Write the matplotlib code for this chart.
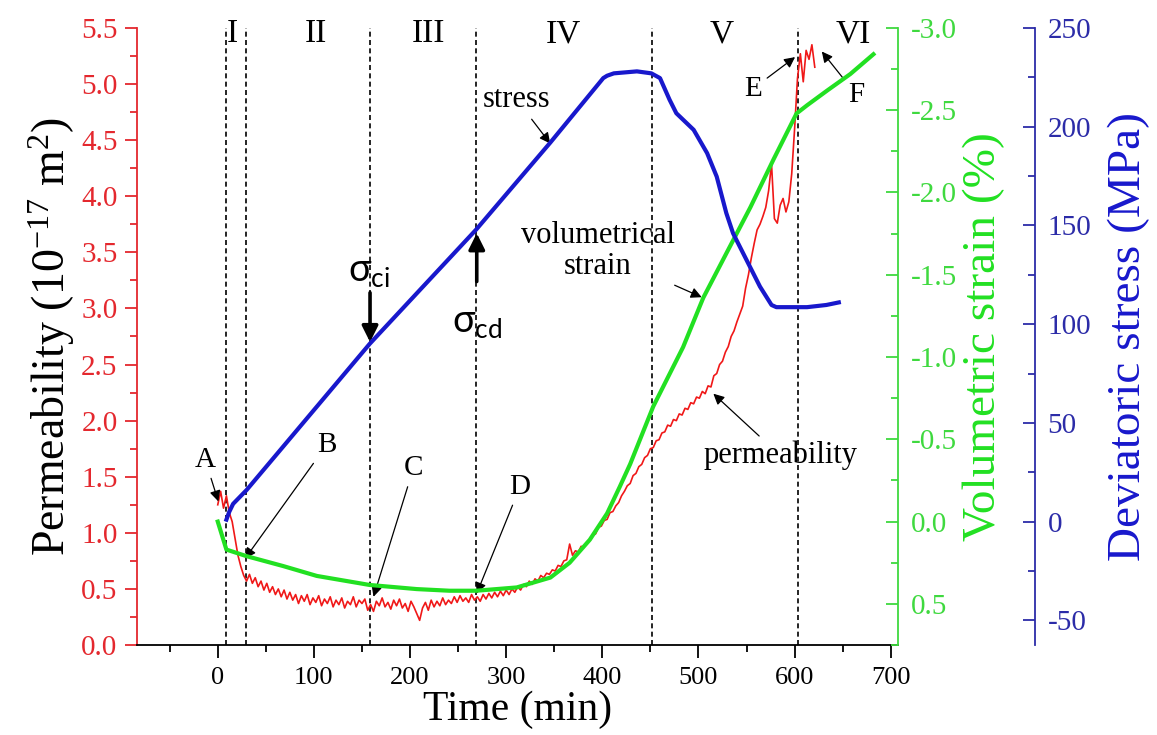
import matplotlib
matplotlib.use('Agg')
import matplotlib.pyplot as plt
import matplotlib.ticker as mticker
import numpy as np

plt.rcParams.update({
    'font.family': ['Liberation Serif', 'DejaVu Serif'],
    'mathtext.default': 'regular',
    'axes.unicode_minus': False,
    'axes.linewidth': 1.3,
})

RED = '#f01818'
RED_AX = '#e4282e'
GREEN = '#22e022'
GREEN_AX = '#3fd93f'
BLUE = '#1818cc'
BLUE_AX = '#2c2ca8'

# --- data ---
# permeability (1e-17 m^2), sampled every 3 min from t = 0
perm_step = 3
perm = [
    1.25, 1.37, 1.22, 1.33, 1.18, 1.10, 0.95, 0.80, 0.70, 0.62,
    0.57, 0.63, 0.55, 0.60, 0.52, 0.57, 0.49, 0.55, 0.47, 0.52,
    0.45, 0.50, 0.43, 0.49, 0.41, 0.47, 0.40, 0.45, 0.37, 0.44,
    0.39, 0.45, 0.36, 0.42, 0.38, 0.44, 0.35, 0.41, 0.37, 0.43,
    0.34, 0.40, 0.36, 0.42, 0.33, 0.39, 0.36, 0.43, 0.34, 0.40,
    0.37, 0.41, 0.31, 0.36, 0.30, 0.39, 0.35, 0.42, 0.34, 0.38,
    0.32, 0.40, 0.35, 0.41, 0.33, 0.37, 0.30, 0.39, 0.34, 0.28,
    0.22, 0.33, 0.38, 0.31, 0.40, 0.34, 0.39, 0.35, 0.42, 0.36,
    0.40, 0.37, 0.43, 0.38, 0.44, 0.39, 0.42, 0.38, 0.45, 0.40,
    0.43, 0.39, 0.45, 0.41, 0.46, 0.42, 0.47, 0.43, 0.48, 0.44,
    0.49, 0.45, 0.50, 0.47, 0.52, 0.49, 0.54, 0.52, 0.57, 0.54,
    0.59, 0.57, 0.62, 0.60, 0.64, 0.63, 0.67, 0.66, 0.71, 0.70,
    0.75, 0.76, 0.90, 0.80, 0.84, 0.83, 0.88, 0.87, 0.92, 0.93,
    0.98, 0.99, 1.05, 1.06, 1.11, 1.12, 1.18, 1.19, 1.24, 1.27,
    1.33, 1.37, 1.42, 1.44, 1.51, 1.53, 1.59, 1.61, 1.67, 1.69,
    1.75, 1.76, 1.82, 1.83, 1.89, 1.90, 1.96, 1.95, 2.01, 2.00,
    2.06, 2.05, 2.11, 2.10, 2.16, 2.15, 2.21, 2.20, 2.26, 2.24,
    2.31, 2.30, 2.40, 2.42, 2.50, 2.53, 2.61, 2.66, 2.75, 2.80,
    2.88, 2.95, 3.02, 3.18, 3.30, 3.45, 3.58, 3.70, 3.75, 3.82,
    3.90, 4.05, 4.29, 3.80, 3.76, 3.92, 3.98, 3.86, 3.95, 4.20,
    4.60, 5.05, 5.27, 5.02, 5.30, 5.22, 5.35, 5.15,
]
perm_t = np.arange(len(perm)) * perm_step

# volumetric strain (%)
strain_t = [0, 9, 30, 68, 103, 158, 207, 241, 269, 311, 346, 366, 387, 405,
            418, 429, 453, 484, 505, 529, 554, 578, 602, 613, 634, 658, 682]
strain = [0.0, 0.17, 0.21, 0.27, 0.33, 0.385, 0.41, 0.42, 0.42, 0.40, 0.34,
          0.25, 0.11, -0.05, -0.21, -0.35, -0.70, -1.06, -1.36, -1.63, -1.91,
          -2.20, -2.48, -2.53, -2.62, -2.72, -2.84]

# deviatoric stress (MPa)
stress_t = [9, 12, 16, 30, 158, 269, 346, 401, 405, 412, 436, 451, 460, 470,
            477, 495, 509, 519, 529, 536, 550, 564, 576, 581, 613, 633, 646]
stress = [1, 5, 9, 16, 90, 148, 192, 224.6, 225.8, 227, 228, 227, 224.6,
          213.6, 206.8, 198.4, 186.6, 174.7, 156.2, 146, 132.5, 119, 109.7,
          108.6, 108.6, 109.7, 111]

stage_bounds = [9, 29, 158, 269, 452, 604]
stage_names = ['I', 'II', 'III', 'IV', 'V', 'VI']
stage_label_t = [15, 102, 219, 359, 524, 661]

fig = plt.figure(figsize=(11.57, 7.35), dpi=100)
ax = fig.add_axes([0.1184, 0.1224, 0.6577, 0.8396])
ax2 = ax.twinx()
ax3 = ax.twinx()

# stage boundaries
for tb in stage_bounds:
    ax.axvline(tb, color='k', lw=1.2, ls=(0, (3, 2)), zorder=1)
for name, tx in zip(stage_names, stage_label_t):
    ax.text(tx, 0.99, name, transform=ax.get_xaxis_transform(),
            ha='center', va='center', fontsize=24)

ax.plot(perm_t, perm, color=RED, lw=1.2, zorder=3)
ax2.plot(strain_t, strain, color=GREEN, lw=3)
ax3.plot(stress_t, stress, color=BLUE, lw=3)

# --- axes ---
ax.set_xlim(-84, 707.5)
ax.set_ylim(0, 5.5)
ax2.set_ylim(0.75, -3.0)
ax3.set_ylim(-62.5, 250)

ax.xaxis.set_major_locator(mticker.MultipleLocator(100))
ax.xaxis.set_minor_locator(mticker.MultipleLocator(50))
ax.yaxis.set_major_locator(mticker.MultipleLocator(0.5))
ax.yaxis.set_minor_locator(mticker.MultipleLocator(0.25))
ax.yaxis.set_major_formatter(mticker.FormatStrFormatter('%.1f'))
ax2.yaxis.set_major_locator(mticker.MultipleLocator(0.5))
ax2.yaxis.set_minor_locator(mticker.MultipleLocator(0.25))
ax2.yaxis.set_major_formatter(mticker.FormatStrFormatter('%.1f'))
ax3.yaxis.set_major_locator(mticker.MultipleLocator(50))
ax3.yaxis.set_minor_locator(mticker.MultipleLocator(25))

for a in (ax, ax2, ax3):
    a.spines['top'].set_visible(False)
ax.spines['right'].set_visible(False)
for a in (ax2, ax3):
    a.spines['left'].set_visible(False)
    a.spines['bottom'].set_visible(False)

ax.spines['left'].set_color(RED_AX)
ax.tick_params(axis='y', which='both', direction='out', colors=RED_AX,
               labelsize=21, pad=5, width=1.3)
ax.tick_params(axis='y', which='major', length=9)
ax.tick_params(axis='y', which='minor', length=5)
ax.tick_params(axis='x', which='both', direction='out', labelsize=19,
               width=1.3, pad=7)
ax.tick_params(axis='x', which='major', length=9)
ax.tick_params(axis='x', which='minor', length=5)

ax2.spines['right'].set_color(GREEN_AX)
ax2.tick_params(axis='y', which='both', direction='in', colors=GREEN_AX,
                labelsize=21, pad=9, width=1.3)
ax2.tick_params(axis='y', which='major', length=9)
ax2.tick_params(axis='y', which='minor', length=5)

ax3.spines['right'].set_position(('axes', 1.18))
ax3.spines['right'].set_color(BLUE_AX)
ax3.tick_params(axis='y', which='both', direction='in', colors=BLUE_AX,
                labelsize=21, pad=9, width=1.3)
ax3.tick_params(axis='y', which='major', length=9)
ax3.tick_params(axis='y', which='minor', length=5)

ax.set_xlabel('Time (min)', fontsize=30, labelpad=1)
ax.set_ylabel('Permeability (10$^{-17}$ m$^{2}$)', fontsize=33, labelpad=3)
ax2.set_ylabel('Volumetric strain (%)', fontsize=34, color=GREEN, labelpad=4)
ax3.set_ylabel('Deviatoric stress (MPa)', fontsize=34, color=BLUE, labelpad=12)

# --- annotations (time, permeability coordinates) ---
arw = dict(arrowstyle='-|>', color='k', lw=0.9, mutation_scale=16,
           shrinkA=2, shrinkB=0)
notes = [
    ('A', (-13, 1.65), (0.6, 1.28)),
    ('B', (113, 1.78), (28.4, 0.77)),
    ('C', (203.5, 1.575), (162, 0.43)),
    ('D', (314.4, 1.41), (269.4, 0.46)),
    ('E', (557, 4.96), (600.5, 5.24)),
    ('F', (664.6, 4.90), (628.3, 5.29)),
    ('stress', (311, 4.86), (345.8, 4.47)),
    ('volumetrical\nstrain', (395.5, 3.51), (503.4, 3.10)),
    ('permeability', (585, 1.69), (515.5, 2.24)),
]
for txt, xyt, xy in notes:
    ax.annotate(txt, xy=xy, xytext=xyt, ha='center', va='center',
                fontsize=21 if len(txt) == 1 else 22, linespacing=1.1,
                arrowprops=arw, zorder=5)

big = dict(arrowstyle='-|>', color='k', lw=2.6, mutation_scale=24,
           shrinkA=0, shrinkB=0)
ax.annotate('', xy=(158.4, 2.70), xytext=(158.4, 3.14), arrowprops=big)
ax.annotate('', xy=(269.4, 3.67), xytext=(269.4, 3.24), arrowprops=big)
ax.text(157, 3.33, r'σ$_{ci}$', fontsize=27, ha='center', va='center',
        family=['Lato', 'DejaVu Sans'])
ax.text(270, 2.88, r'σ$_{cd}$', fontsize=27, ha='center', va='center',
        family=['Lato', 'DejaVu Sans'])

fig.savefig('out.png', dpi=100)
